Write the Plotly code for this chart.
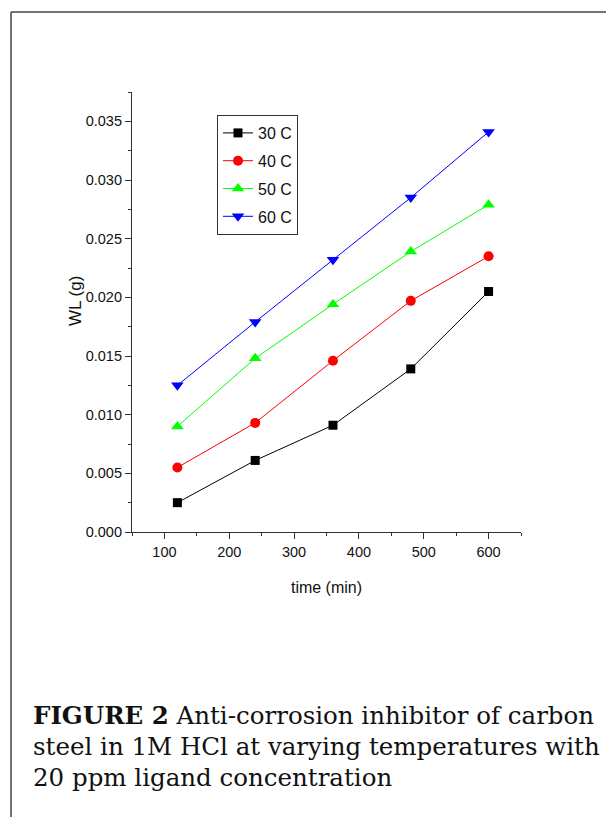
import plotly.graph_objects as go

time_min = [120, 240, 360, 480, 600]
wl_30 = [0.0025, 0.0061, 0.0091, 0.0139, 0.0205]
wl_40 = [0.0055, 0.0093, 0.0146, 0.0197, 0.0235]
wl_50 = [0.0090, 0.0148, 0.0194, 0.0239, 0.0279]
wl_60 = [0.0125, 0.0179, 0.0232, 0.0285, 0.0341]
series_names = ["30 C", "40 C", "50 C", "60 C"]
y_ticks = [0.000, 0.005, 0.010, 0.015, 0.020, 0.025, 0.030, 0.035]
y_tick_labels = ["0.000", "0.005", "0.010", "0.015", "0.020", "0.025", "0.030", "0.035"]
x_ticks = [100, 200, 300, 400, 500, 600]
x_title = "time (min)"
y_title = "WL (g)"
caption_lines = [
    "<b>FIGURE 2</b> Anti-corrosion inhibitor of carbon",
    "steel in 1M HCl at varying temperatures with",
    "20 ppm ligand concentration",
]

OFF = 8  # page body margin
W, H = 614 - OFF, 817 - OFF
L, R, T, B = 132 - OFF, 521 - OFF, 92 - OFF, 532 - OFF  # plot area in figure pixels

def px_x(p):
    return (p - OFF - L) / (R - L)

def px_y(p):
    return (B - (p - OFF)) / (B - T)

tick_font = dict(family="Liberation Sans, Arial", size=14.5, color="#111")

fig = go.Figure()
styles = [
    ("black", "square", 9),
    ("#ff0000", "circle", 10),
    ("#00ff00", "triangle-up", 11),
    ("#0000ff", "triangle-down", 11),
]
for i, (name, ys) in enumerate(zip(series_names, [wl_30, wl_40, wl_50, wl_60])):
    c, sym, sz = styles[i]
    fig.add_trace(go.Scatter(
        x=time_min, y=ys, name=name, mode="lines+markers",
        line=dict(color=c, width=1),
        marker=dict(color=c, symbol=sym, size=sz),
        legendgroup=name,
    ))

axis_common = dict(
    showline=True, linecolor="#333", linewidth=1.2, showgrid=False, zeroline=False,
    ticks="outside", ticklen=6, tickcolor="#333", tickwidth=1, tickfont=tick_font,
)
fig.update_xaxes(
    range=[50, 650], tickvals=x_ticks,
    minor=dict(ticks="outside", ticklen=3, tickcolor="#333", dtick=50, tick0=50),
    title=dict(text=x_title, font=dict(family="Liberation Sans, Arial", size=16, color="#111"), standoff=23),
    **axis_common,
)
fig.update_yaxes(
    range=[0, 0.0375], tickvals=y_ticks, ticktext=y_tick_labels,
    minor=dict(ticks="outside", ticklen=3, tickcolor="#333", dtick=0.0025, tick0=0),
    **axis_common,
)

fig.update_layout(
    width=W, height=H,
    margin=dict(l=L, r=W - R, t=T, b=H - B, pad=0),
    paper_bgcolor="white", plot_bgcolor="white",
    showlegend=True,
    legend=dict(
        x=px_x(217), y=px_y(115), xanchor="left", yanchor="top",
        bordercolor="#333", borderwidth=1, bgcolor="white",
        font=dict(family="Liberation Sans, Arial", size=16, color="#111"),
        tracegroupgap=4, itemwidth=30,
    ),
)

# y axis title
fig.add_annotation(
    text=y_title, xref="paper", yref="paper", x=px_x(75), y=px_y(301),
    xanchor="center", yanchor="middle", textangle=-90, showarrow=False,
    font=dict(family="Liberation Sans, Arial", size=17, color="#111"),
)

# frame lines (left and top)
fig.add_shape(type="line", xref="paper", yref="paper",
              x0=px_x(11), x1=px_x(11), y0=px_y(12), y1=px_y(817 + 5),
              line=dict(color="#444", width=1.5))
fig.add_shape(type="line", xref="paper", yref="paper",
              x0=px_x(11), x1=px_x(614 + 5), y0=px_y(12), y1=px_y(12),
              line=dict(color="#444", width=1.5))

cap_font = dict(family="DejaVu Serif", size=24.5, color="#111")
for i, line in enumerate(caption_lines):
    fig.add_annotation(
        text=line, xref="paper", yref="paper",
        x=px_x(31), y=px_y(732 + 31 * i), xanchor="left", yanchor="bottom",
        showarrow=False, font=cap_font, align="left",
    )

fig.write_html("out.html")
